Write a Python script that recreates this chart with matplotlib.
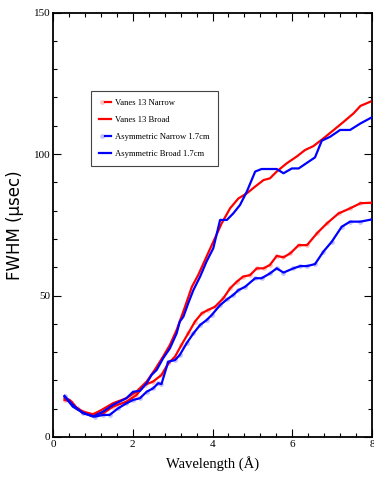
import matplotlib
matplotlib.use('Agg')
import matplotlib.pyplot as plt
from matplotlib.ticker import MultipleLocator
from matplotlib.legend_handler import HandlerTuple

# Vanes 13 Broad (upper red)
vb_x = [0.29, 0.42, 0.59, 0.75, 1.0, 1.21, 1.5, 1.84, 2.09, 2.35, 2.55, 2.76, 2.93, 3.1,
        3.31, 3.48, 3.64, 3.81, 4.02, 4.23, 4.44, 4.65, 4.86, 5.07, 5.28, 5.44, 5.61,
        5.86, 6.11, 6.32, 6.53, 6.78, 7.04, 7.29, 7.54, 7.71, 7.96]
vb_y = [13.7, 13.1, 10.1, 8.6, 8.0, 9.5, 11.9, 13.7, 16.0, 19.6, 23.7, 28.4, 32.5, 37.8,
        46.0, 53.0, 57.2, 62.5, 69.0, 75.5, 80.8, 84.3, 86.1, 88.5, 90.8, 91.4, 93.8,
        96.7, 99.1, 101.4, 102.8, 105.5, 108.5, 111.4, 114.4, 117.0, 118.5]

# Asymmetric Broad 1.7cm (upper blue)
ab_x = [0.29, 0.5, 0.75, 1.0, 1.26, 1.5, 1.84, 2.01, 2.18, 2.35, 2.47, 2.6, 2.76, 2.93,
        3.1, 3.18, 3.27, 3.39, 3.52, 3.69, 3.85, 4.02, 4.19, 4.36, 4.52, 4.69, 4.86,
        5.07, 5.23, 5.61, 5.78, 5.99, 6.16, 6.37, 6.57, 6.74, 6.95, 7.2, 7.45, 7.71, 8.0]
ab_y = [14.3, 10.7, 8.6, 7.2, 9.0, 11.3, 13.7, 16.0, 16.3, 19.0, 21.9, 23.7, 27.8, 31.3,
        36.6, 40.8, 42.5, 47.2, 51.9, 56.7, 62.0, 66.7, 76.7, 76.7, 79.0, 82.0, 86.7,
        93.8, 94.7, 94.7, 93.2, 94.9, 94.9, 96.9, 98.8, 104.7, 106.1, 108.5, 108.5,
        110.8, 113.0]

# Vanes 13 Narrow (lower red)
vn_x = [0.29, 0.46, 0.59, 0.75, 1.0, 1.26, 1.5, 1.84, 2.09, 2.3, 2.51, 2.72, 2.89, 3.06,
        3.22, 3.39, 3.56, 3.73, 3.89, 4.06, 4.27, 4.44, 4.61, 4.77, 4.94, 5.11, 5.28,
        5.44, 5.61, 5.78, 5.95, 6.16, 6.37, 6.62, 6.87, 7.16, 7.45, 7.71, 8.0]
vn_y = [13.1, 12.5, 10.4, 9.0, 8.0, 8.4, 10.7, 12.5, 14.8, 18.4, 19.6, 21.9, 26.0, 28.4,
        32.5, 36.6, 40.8, 43.7, 44.9, 46.0, 49.0, 52.5, 54.9, 56.7, 57.2, 59.6, 59.6,
        60.8, 64.0, 63.5, 64.9, 67.8, 67.8, 72.0, 75.5, 79.0, 80.8, 82.6, 82.8]

# Asymmetric Narrow 1.7cm (lower blue)
an_x = [0.29, 0.5, 0.75, 1.05, 1.26, 1.42, 1.63, 1.84, 2.01, 2.18, 2.35, 2.51, 2.64, 2.72,
        2.89, 3.06, 3.18, 3.35, 3.52, 3.69, 3.85, 3.98, 4.19, 4.36, 4.52, 4.65, 4.82,
        5.07, 5.23, 5.44, 5.61, 5.78, 6.03, 6.2, 6.37, 6.57, 6.78, 6.99, 7.24, 7.45,
        7.71, 8.0]
an_y = [14.5, 11.3, 8.4, 7.2, 7.8, 7.8, 10.1, 11.9, 13.1, 13.7, 16.0, 17.2, 19.0, 18.7,
        26.6, 27.2, 29.0, 33.1, 36.6, 39.6, 41.3, 43.1, 46.6, 48.6, 50.2, 51.9, 53.1,
        56.1, 56.1, 57.8, 59.6, 58.1, 59.6, 60.4, 60.4, 61.1, 65.5, 69.0, 74.3, 76.1,
        76.1, 76.9]

serif = 'Liberation Serif'

fig = plt.figure(figsize=(3.74, 4.93), dpi=100)
ax = fig.add_axes([0.1417, 0.1136, 0.853, 0.861])

# narrow runs: faint markers underneath a solid line
m1, = ax.plot(vn_x, vn_y, 'o', markersize=3.5, color=(1, 0.55, 0.55), alpha=0.5,
              markeredgewidth=0, zorder=2)
l1, = ax.plot(vn_x, vn_y, '-', color='red', lw=1.6, zorder=3)
l2, = ax.plot(vb_x, vb_y, '-', color='red', lw=1.6, zorder=3)
m3, = ax.plot(an_x, an_y, 'o', markersize=3.5, color=(0.55, 0.55, 1), alpha=0.5,
              markeredgewidth=0, zorder=2)
l3, = ax.plot(an_x, an_y, '-', color='blue', lw=1.6, zorder=3)
l4, = ax.plot(ab_x, ab_y, '-', color='blue', lw=1.6, zorder=3)

ax.set_xlim(0, 8)
ax.set_ylim(0, 150)
ax.xaxis.set_major_locator(MultipleLocator(2))
ax.xaxis.set_minor_locator(MultipleLocator(0.4))
ax.yaxis.set_major_locator(MultipleLocator(50))
ax.yaxis.set_minor_locator(MultipleLocator(10))
ax.tick_params(which='both', direction='in', top=True, right=True, width=0.8)
ax.tick_params(which='major', length=6, labelsize=8, pad=2)
ax.tick_params(which='minor', length=3)
for lab in ax.get_xticklabels() + ax.get_yticklabels():
    lab.set_fontfamily(serif)
for s in ax.spines.values():
    s.set_linewidth(1.3)

ax.set_xlabel('Wavelength (Å)', fontfamily=serif, fontsize=10.5, labelpad=5)
ax.set_ylabel('FWHM (μsec)', fontfamily='DejaVu Sans', fontsize=12, labelpad=7)

leg = ax.legend([(m1, l1), l2, (m3, l3), l4],
                ['Vanes 13 Narrow', 'Vanes 13 Broad', 'Asymmetric Narrow 1.7cm',
                 'Asymmetric Broad 1.7cm'],
                handler_map={tuple: HandlerTuple(ndivide=None, pad=0)},
                loc='upper left', bbox_to_anchor=(0.12, 0.815), prop={'family': serif, 'size': 6.2},
                fancybox=False, frameon=True, handlelength=1.4, handletextpad=0.5,
                labelspacing=1.05, borderpad=0.9, borderaxespad=0, framealpha=1)
leg.get_frame().set_edgecolor('#444444')
leg.get_frame().set_linewidth(0.8)

fig.savefig('out.png', dpi=100)
